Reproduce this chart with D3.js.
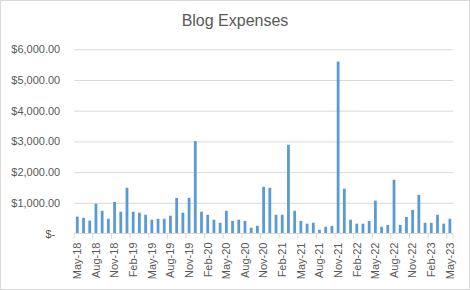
<!DOCTYPE html>
<html lang="en">
<head>
    <meta charset="utf-8">
    <script src="https://cdn.jsdelivr.net/npm/d3@7/dist/d3.min.js"></script>
    <style>
        body { margin: 0; background: white; }
        text { font-family: "Liberation Sans", Arial, sans-serif; fill: #595959; }
        .domain { stroke: #d9d9d9; }
        .grid line { stroke: #d9d9d9; stroke-width: 1px; }
    </style>
</head>
<body>
<script>
    // months, one per bar
    let months = [
        'May-18','Jun-18','Jul-18','Aug-18','Sep-18','Oct-18','Nov-18','Dec-18',
        'Jan-19','Feb-19','Mar-19','Apr-19','May-19','Jun-19','Jul-19','Aug-19','Sep-19','Oct-19','Nov-19','Dec-19',
        'Jan-20','Feb-20','Mar-20','Apr-20','May-20','Jun-20','Jul-20','Aug-20','Sep-20','Oct-20','Nov-20','Dec-20',
        'Jan-21','Feb-21','Mar-21','Apr-21','May-21','Jun-21','Jul-21','Aug-21','Sep-21','Oct-21','Nov-21','Dec-21',
        'Jan-22','Feb-22','Mar-22','Apr-22','May-22','Jun-22','Jul-22','Aug-22','Sep-22','Oct-22','Nov-22','Dec-22',
        'Jan-23','Feb-23','Mar-23','Apr-23','May-23'
    ];

    // expenses in dollars
    let expenses = [
        550, 510, 420, 970, 740, 480, 1030, 710,
        1490, 710, 680, 610, 450, 480, 480, 580, 1160, 680, 1160, 3010,
        710, 610, 450, 350, 740, 410, 450, 410, 190, 250, 1520, 1490,
        610, 610, 2890, 740, 410, 320, 350, 120, 220, 250, 5600, 1460,
        450, 320, 320, 410, 1070, 220, 280, 1750, 280, 540, 770, 1260,
        350, 350, 610, 320, 480
    ];

    let yTicks = [0, 1000, 2000, 3000, 4000, 5000, 6000];
    let chartTitle = 'Blog Expenses';

    let data = months.map(function (m, i) {
        return {month: m, value: expenses[i]};
    });

    let width = 470, height = 290;
    let plotLeft = 74.2, plotRight = 453, plotTop = 49.3, plotBottom = 233.5;

    let svg = d3.select('body').append('svg')
        .attr('width', width).attr('height', height);

    svg.append('rect')
        .attr('x', 0.5).attr('y', 0.5)
        .attr('width', width - 1).attr('height', height - 1)
        .attr('fill', 'white').attr('stroke', '#d9d9d9');

    svg.append('text')
        .attr('x', 235).attr('y', 26)
        .attr('text-anchor', 'middle')
        .style('font-size', '16px')
        .text(chartTitle);

    let x = d3.scaleBand()
        .domain(months)
        .range([plotLeft, plotRight])
        .paddingInner(0.55)
        .paddingOuter(0.275);

    let y = d3.scaleLinear()
        .domain([0, 6000])
        .range([plotBottom, plotTop]);

    let money = d3.format('$,.2f');

    // y axis + gridlines
    let yAxis = svg.append('g')
        .attr('class', 'grid')
        .attr('transform', 'translate(' + plotLeft + ',0)')
        .call(d3.axisLeft(y)
            .tickValues(yTicks)
            .tickSize(-(plotRight - plotLeft))
            .tickPadding(14)
            .tickFormat(function (d) { return d === 0 ? '$-' : money(d); }));
    yAxis.select('.domain').remove();
    yAxis.selectAll('text')
        .style('font-size', '11px')
        .attr('dx', function (d) { return d === 0 ? -5 : 0; });
    yAxis.selectAll('.tick').filter(function (d) { return d === 0; })
        .select('line').remove();

    // bars
    svg.append('g').selectAll('rect')
        .data(data)
        .enter().append('rect')
        .attr('x', function (d) { return x(d.month); })
        .attr('y', function (d) { return y(d.value); })
        .attr('width', x.bandwidth())
        .attr('height', function (d) { return y(0) - y(d.value); })
        .attr('fill', '#5b9bd5');

    // x axis: labels every third month, ticks between categories
    let labelled = months.filter(function (m, i) { return i % 3 === 0; });

    let xAxis = svg.append('g')
        .attr('transform', 'translate(0,' + plotBottom + ')')
        .call(d3.axisBottom(x).tickValues(labelled).tickSize(0).tickSizeOuter(0));
    xAxis.select('.domain').attr('d', 'M' + plotLeft + ',0H' + plotRight);
    xAxis.selectAll('text')
        .style('font-size', '11px')
        .attr('transform', 'rotate(-90)')
        .attr('x', -9)
        .attr('y', 0)
        .attr('dy', '0.35em')
        .attr('text-anchor', 'end');

    let step = x.step();
    let edges = labelled.map(function (m) { return x(m) + x.bandwidth() / 2 - step / 2; });
    edges.push(plotRight);
    xAxis.selectAll('.edge')
        .data(edges)
        .enter().append('line')
        .attr('class', 'edge')
        .attr('x1', function (d) { return d; })
        .attr('x2', function (d) { return d; })
        .attr('y1', 0).attr('y2', 5)
        .attr('stroke', '#d9d9d9');
</script>
</body>
</html>
